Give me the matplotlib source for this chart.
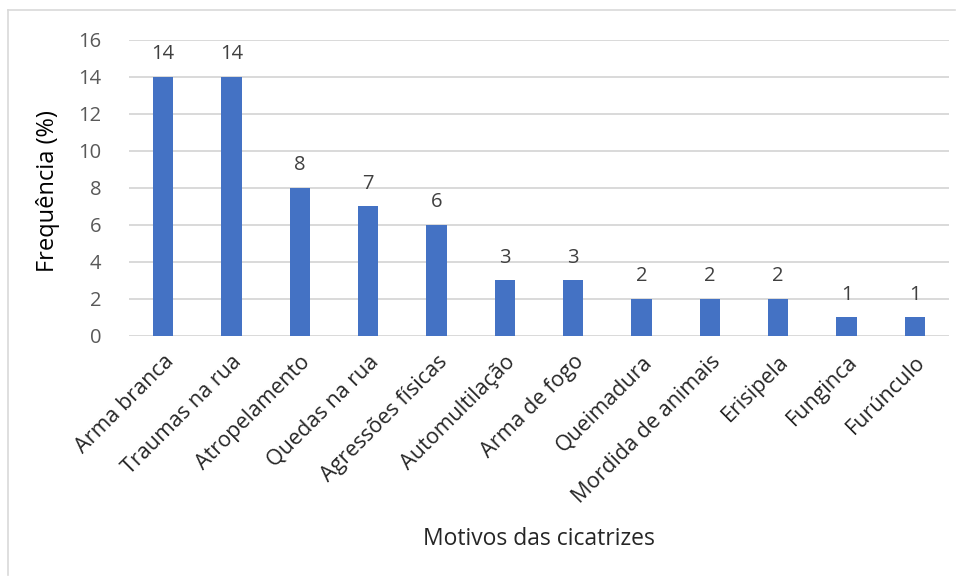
import matplotlib
matplotlib.use("Agg")
import matplotlib.pyplot as plt
from matplotlib.lines import Line2D

categories = ["Arma branca", "Traumas na rua", "Atropelamento", "Quedas na rua",
              "Agressões físicas", "Automultilação", "Arma de fogo", "Queimadura",
              "Mordida de animais", "Erisipela", "Funginca", "Furúnculo"]
values = [14, 14, 8, 7, 6, 3, 3, 2, 2, 2, 1, 1]
y_ticks = [0, 2, 4, 6, 8, 10, 12, 14, 16]

plt.rcParams["font.family"] = ["Open Sans", "DejaVu Sans"]

fig = plt.figure(figsize=(9.65, 5.81), dpi=100)
ax = fig.add_axes([0.1337, 0.4217, 0.8497, 0.5095])

x = range(len(categories))
bars = ax.bar(x, values, width=0.3, color="#4472C4", zorder=3)
for xi, v in zip(x, values):
    ax.annotate(str(v), (xi, v), xytext=(0, 9), textcoords="offset points",
                ha="center", va="bottom", fontsize=14.5, color="#404040")

ax.set_xlim(-0.5, len(categories) - 0.5)
ax.set_ylim(0, 16)
ax.set_yticks(y_ticks)
ax.set_yticklabels([str(t) for t in y_ticks], fontsize=14.5, color="#595959")
ax.set_xticks(list(x))
ax.set_xticklabels(categories, rotation=45, ha="right", rotation_mode="anchor",
                   fontsize=15.5, color="#262626")
ax.tick_params(axis="both", length=0)
ax.tick_params(axis="x", pad=11)
ax.tick_params(axis="y", pad=20)

ax.grid(axis="y", color="#D9D9D9", linewidth=1.4, zorder=0)
for s in ax.spines.values():
    s.set_visible(False)

fig.text(0.050, 1 - 191 / 581, "Frequência (%)", rotation=90, ha="center", va="center",
         fontsize=17, color="#000000")
fig.text(539 / 965, 1 - 539 / 581, "Motivos das cicatrizes", ha="center", va="center",
         fontsize=16.5, color="#262626")

# chart frame
fig.add_artist(Line2D([0.0085, 0.0085], [0.01, 0.983], transform=fig.transFigure,
                      color="#D9D9D9", linewidth=1.2))
fig.add_artist(Line2D([0.0085, 0.99], [0.983, 0.983], transform=fig.transFigure,
                      color="#D9D9D9", linewidth=1.2))

fig.savefig("out.png", dpi=100)
